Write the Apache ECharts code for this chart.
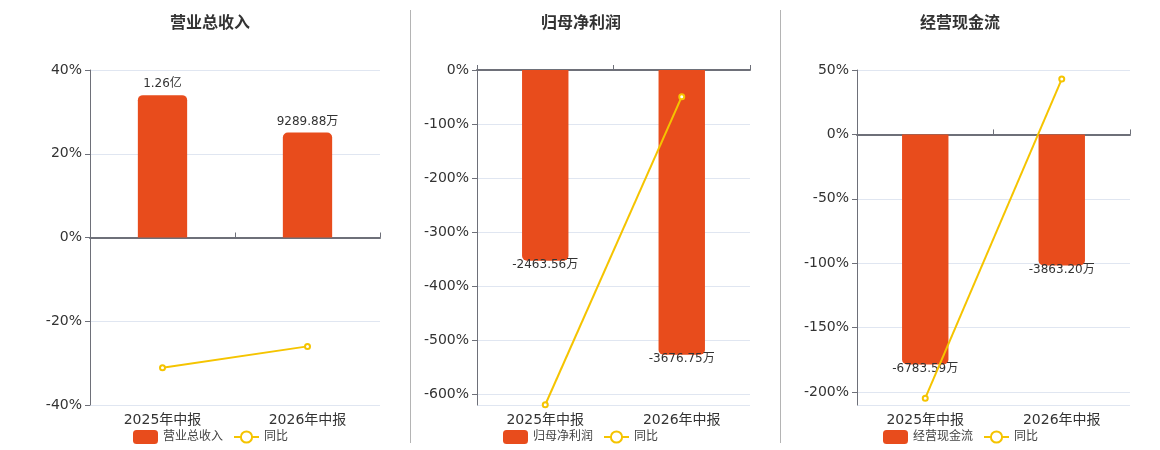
<!DOCTYPE html>
<html>
<head>
<meta charset="utf-8">
<script src="https://cdn.jsdelivr.net/npm/echarts@6/dist/echarts.min.js"></script>
<style>
  html, body { margin: 0; padding: 0; background: #fff; }
  #chart { width: 1160px; height: 450px; }
</style>
</head>
<body>
<div id="chart"></div>
<script>
// 三个小图：柱子是金额(万)，折线是同比(%)
const categories = ['2025年中报', '2026年中报'];
const titles = ['营业总收入', '归母净利润', '经营现金流'];

const revenue = [12600, 9289.88];
const revenueYoy = [-31.1, -26.0];
const netProfit = [-2463.56, -3676.75];
const netProfitYoy = [-619.5, -49.4];
const cashFlow = [-6783.59, -3863.20];
const cashFlowYoy = [-204.7, 43.0];

// 百分比轴范围
const pctRanges = [[-40, 40], [-620, 0], [-210, 50]];
const pctIntervals = [20, 100, 50];

const barData = [revenue, netProfit, cashFlow];
const yoyData = [revenueYoy, netProfitYoy, cashFlowYoy];

const BAR_COLOR = '#E84C1C';
const LINE_COLOR = '#F5C400';
const AXIS_COLOR = '#6E7079';

const panelGrids = [
    { left: 90, width: 290 },
    { left: 477, width: 273 },
    { left: 857, width: 273 }
];
const titleCenters = [205, 576, 955];
const legendLefts = [128, 498, 878];

function formatMoney(v) {
    if (Math.abs(v) >= 10000) return (v / 10000).toFixed(2) + '亿';
    return v.toFixed(2) + '万';
}

// 柱子用隐藏的轴，最长的柱子占到该方向的85%
function barAxisRange(values, range) {
    let maxV = values[0];
    values.forEach(v => { if (Math.abs(v) > Math.abs(maxV)) maxV = v; });
    const side = maxV >= 0 ? range[1] : -range[0];
    const unit = Math.abs(maxV) / (0.85 * side);
    return [range[0] * unit, range[1] * unit];
}

const option = {
    animation: false,
    textStyle: { fontFamily: 'DejaVu Sans, Noto Sans CJK SC, sans-serif' },
    title: [],
    legend: [],
    grid: [],
    xAxis: [],
    yAxis: [],
    series: [],
    graphic: [410.5, 780.5].map(x => ({
        type: 'line',
        shape: { x1: x, y1: 10, x2: x, y2: 443 },
        style: { stroke: '#B4B4B4', lineWidth: 1 }
    }))
};

for (let i = 0; i < 3; i++) {
    const barName = titles[i];

    option.title.push({
        text: titles[i],
        left: titleCenters[i],
        top: 11,
        textAlign: 'center',
        textStyle: { fontSize: 16, fontWeight: 'bold', color: '#333' }
    });

    option.legend.push({
        left: legendLefts[i],
        top: 425,
        itemGap: 10,
        itemWidth: 25,
        itemHeight: 14,
        textStyle: { fontSize: 12, color: '#444' },
        data: [barName, { name: '同比_' + i }],
        formatter: name => name.startsWith('同比') ? '同比' : name
    });

    option.grid.push({ left: panelGrids[i].left, width: panelGrids[i].width, top: 70, height: 335 });

    // 底部标签轴
    option.xAxis.push({
        type: 'category',
        gridIndex: i,
        data: categories,
        position: 'bottom',
        axisLine: { show: false, onZero: false },
        axisTick: { show: false },
        axisLabel: { fontSize: 14, color: '#333', margin: 8 }
    });
    // 零线轴
    option.xAxis.push({
        type: 'category',
        gridIndex: i,
        data: categories,
        axisLine: { show: true, onZero: true, onZeroAxisIndex: i, lineStyle: { color: AXIS_COLOR, width: 2 } },
        axisTick: { show: true, lineStyle: { color: AXIS_COLOR } },
        axisLabel: { show: false }
    });
}

for (let i = 0; i < 3; i++) {
    const range = pctRanges[i];
    option.yAxis.push({
        type: 'value',
        gridIndex: i,
        min: range[0],
        max: range[1],
        interval: i === 0 ? pctIntervals[i] : undefined,
        axisLine: { show: true, lineStyle: { color: AXIS_COLOR } },
        axisTick: { show: true, lineStyle: { color: AXIS_COLOR } },
        axisLabel: { fontSize: 14, color: '#333', formatter: '{value}%', showMinLabel: i === 0, padding: [4, 0, 0, 0] },
        splitLine: { show: true, lineStyle: { color: '#E0E6F1' } }
    });
}
for (let i = 0; i < 3; i++) {
    const bRange = barAxisRange(barData[i], pctRanges[i]);
    option.yAxis.push({
        type: 'value',
        gridIndex: i,
        min: bRange[0],
        max: bRange[1],
        show: false,
        splitLine: { show: false }
    });
}

for (let i = 0; i < 3; i++) {
    option.series.push({
        name: titles[i],
        type: 'bar',
        xAxisIndex: i * 2,
        yAxisIndex: 3 + i,
        barWidth: '34%',
        itemStyle: { color: BAR_COLOR },
        label: { show: true, fontSize: 12, color: '#333', formatter: p => formatMoney(p.value) },
        data: barData[i].map(v => ({
            value: v,
            itemStyle: { borderRadius: v >= 0 ? [5, 5, 0, 0] : [0, 0, 5, 5] },
            label: { position: v >= 0 ? 'top' : 'bottom', distance: v >= 0 ? 5 : -2 }
        }))
    });
    option.series.push({
        name: '同比_' + i,
        type: 'line',
        xAxisIndex: i * 2,
        yAxisIndex: i,
        symbol: 'emptyCircle',
        symbolSize: 5,
        z: 5,
        itemStyle: { color: LINE_COLOR },
        lineStyle: { color: LINE_COLOR, width: 2 },
        data: yoyData[i]
    });
}

const chart = echarts.init(document.getElementById('chart'));
chart.setOption(option);
</script>
</body>
</html>
